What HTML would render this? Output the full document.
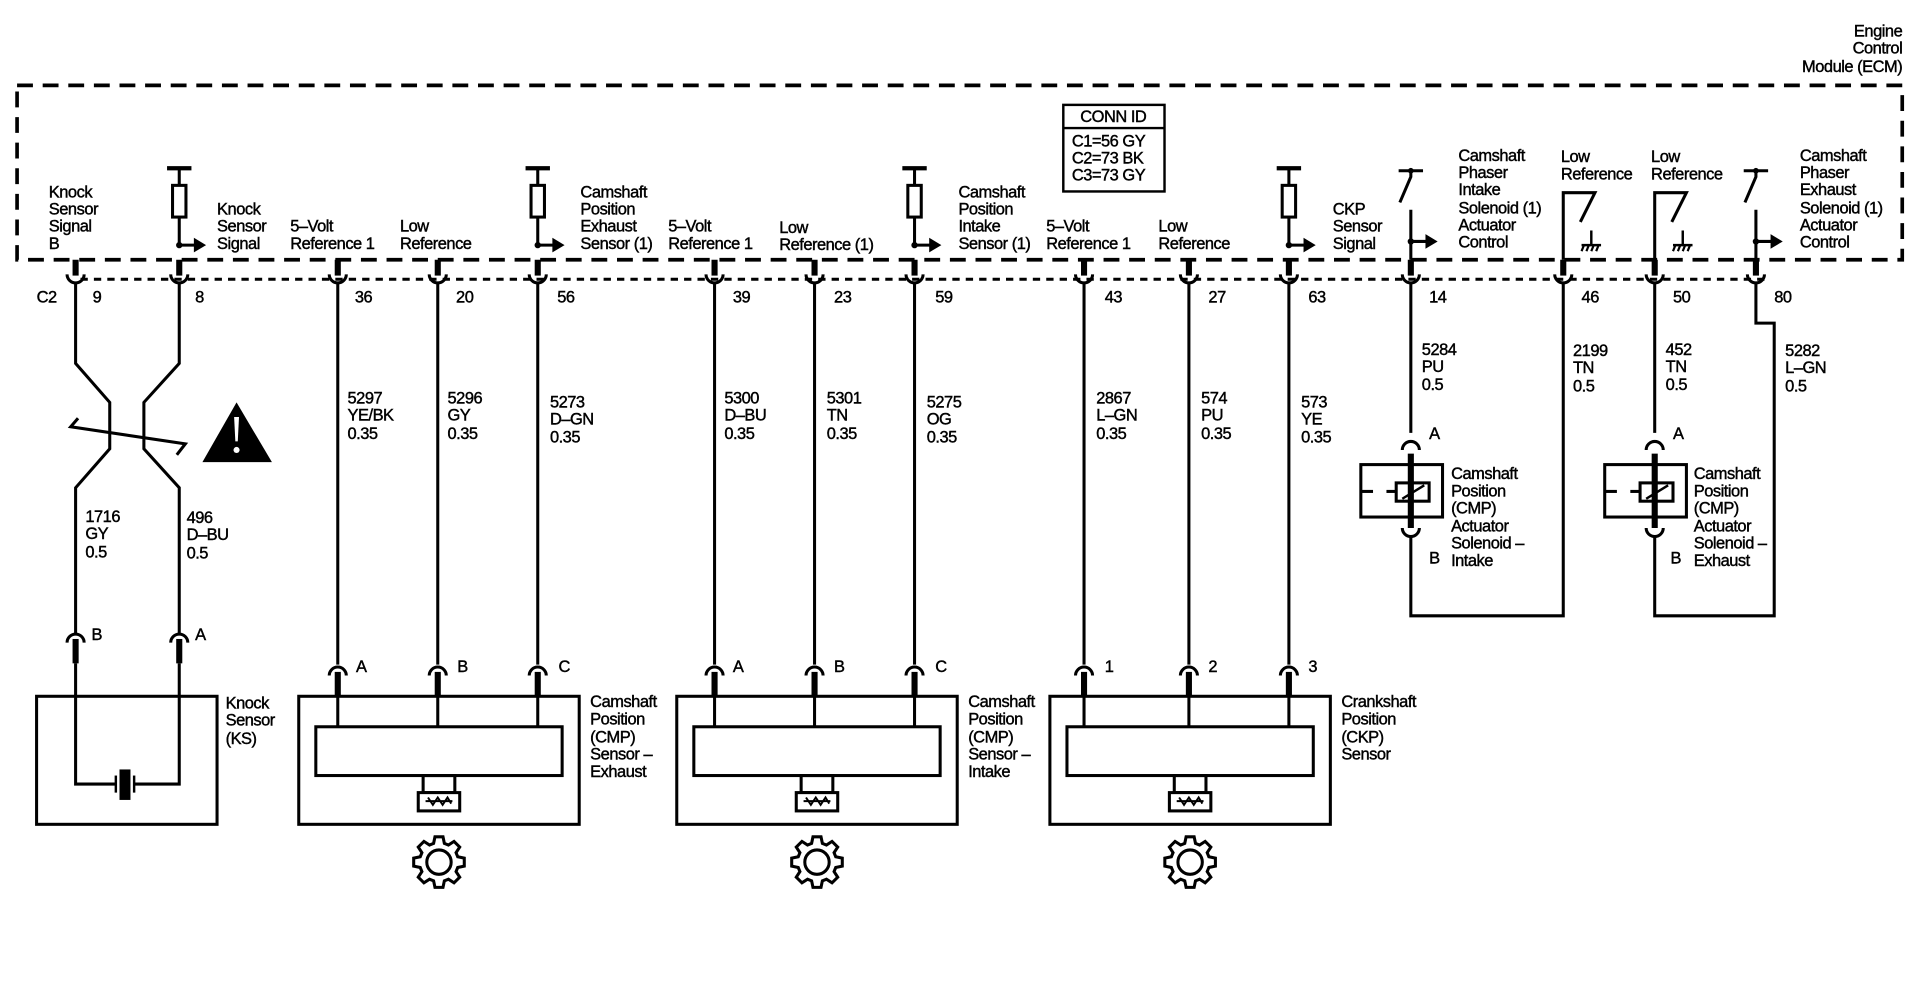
<!DOCTYPE html>
<html><head><meta charset="utf-8"><style>
html,body{margin:0;padding:0;background:#fff;}
svg{display:block;}
text{font-family:"Liberation Sans",Arial,sans-serif;font-size:13.5px;fill:#000;stroke:#000;stroke-width:0.35px;letter-spacing:-0.4px;}
</style></head><body>
<svg width="1912" height="992" viewBox="0 0 1568 813.5" xmlns="http://www.w3.org/2000/svg">
<defs>
<polygon id="gear" fill="#fff" stroke="#000" stroke-width="2.5" points="15.38,-4.41 20.74,-3.29 20.74,3.29 15.38,4.41 14,7.76 16.99,12.34 12.34,16.99 7.76,14 4.41,15.38 3.29,20.74 -3.29,20.74 -4.41,15.38 -7.76,14 -12.34,16.99 -16.99,12.34 -14,7.76 -15.38,4.41 -20.74,3.29 -20.74,-3.29 -15.38,-4.41 -14,-7.76 -16.99,-12.34 -12.34,-16.99 -7.76,-14 -4.41,-15.38 -3.29,-20.74 3.29,-20.74 4.41,-15.38 7.76,-14 12.34,-16.99 16.99,-12.34 14,-7.76"/>
<g id="res"><line x1="-10" y1="0" x2="10" y2="0" stroke="#000" stroke-width="3.5"/><line x1="0" y1="0" x2="0" y2="62" stroke="#000" stroke-width="2.5"/><rect x="-5.5" y="14" width="11" height="26" fill="#fff" stroke="#000" stroke-width="2.5"/><circle cx="0" cy="63" r="2.6"/><line x1="0" y1="63" x2="14" y2="63" stroke="#000" stroke-width="2.5"/><polygon points="12,57 22,63 12,69"/></g>
<g id="sw"><line x1="-10" y1="0" x2="10" y2="0" stroke="#000" stroke-width="2.5"/><circle cx="0" cy="0" r="2.3"/><polyline points="0,0 0,5 -9,26" fill="none" stroke="#000" stroke-width="2.5"/><line x1="0" y1="32" x2="0" y2="73" stroke="#000" stroke-width="2.5"/><circle cx="0" cy="58" r="2.6"/><line x1="0" y1="58" x2="14" y2="58" stroke="#000" stroke-width="2.5"/><polygon points="12,52 22,58 12,64"/></g>
<g id="lowref"><polyline points="0,73 0,18 26,18 14,42" fill="none" stroke="#000" stroke-width="2.5"/><line x1="23" y1="49" x2="23" y2="61" stroke="#000" stroke-width="2"/><line x1="15" y1="61" x2="31" y2="61" stroke="#000" stroke-width="2"/><path d="M17,61 l-2,5 M21,61 l-2,5 M25,61 l-2,5 M29,61 l-2,5" stroke="#000" stroke-width="1.8"/></g>
<g id="pinTop"><line x1="0" y1="213" x2="0" y2="226" stroke="#000" stroke-width="5"/><path d="M-7,225 a7,7 0 0 0 14,0" fill="none" stroke="#000" stroke-width="2.5"/></g>
<g id="pinBot"><path d="M-7,7 a7,7 0 0 1 14,0" fill="none" stroke="#000" stroke-width="2.5"/><line x1="0" y1="4" x2="0" y2="24" stroke="#000" stroke-width="5"/></g>
<g id="sensor"><rect x="0" y="0" width="230" height="105" fill="none" stroke="#000" stroke-width="2.5"/><rect x="14" y="25" width="202" height="40" fill="none" stroke="#000" stroke-width="2.5"/><rect x="102" y="65" width="26" height="14" fill="none" stroke="#000" stroke-width="2.5"/><rect x="98" y="79" width="34" height="15" fill="#fff" stroke="#000" stroke-width="2.5"/><path d="M104,86 h22 M106,83 l4,6 l4,-6 l4,6 l4,-6 l3,5" fill="none" stroke="#000" stroke-width="1.6"/><use href="#gear" x="115" y="136"/><circle cx="115" cy="136" r="10" fill="none" stroke="#000" stroke-width="2.5"/></g>
<g id="sol"><rect x="-41" y="0" width="67" height="43" fill="none" stroke="#000" stroke-width="2.5"/><line x1="-41" y1="22" x2="-31" y2="22" stroke="#000" stroke-width="2.5"/><line x1="-20" y1="22" x2="-12" y2="22" stroke="#000" stroke-width="2.5"/><rect x="-12" y="15" width="27" height="15" fill="#fff" stroke="#000" stroke-width="2.5"/><line x1="-7" y1="28" x2="11" y2="17" stroke="#000" stroke-width="2"/><line x1="0" y1="-9" x2="0" y2="52" stroke="#000" stroke-width="5"/><path d="M-7,-12 a7,7 0 0 1 14,0" fill="none" stroke="#000" stroke-width="2.5"/><path d="M-7,52 a7,7 0 0 0 14,0" fill="none" stroke="#000" stroke-width="2.5"/></g>
</defs>

<text x="1560" y="30" text-anchor="end">Engine</text>
<text x="1560" y="44" text-anchor="end">Control</text>
<text x="1560" y="59" text-anchor="end">Module (ECM)</text>

<rect x="14" y="70" width="1546" height="143" fill="none" stroke="#000" stroke-width="3" stroke-dasharray="13,8"/>
<line x1="66" y1="229" x2="1448" y2="229" stroke="#000" stroke-width="2.5" stroke-dasharray="6,5"/>

<rect x="872" y="86" width="83" height="71" fill="#fff" stroke="#000" stroke-width="2"/>
<line x1="872" y1="105" x2="955" y2="105" stroke="#000" stroke-width="2"/>
<text x="913" y="100" text-anchor="middle">CONN ID</text>
<text x="879" y="120">C1=56 GY</text>
<text x="879" y="134">C2=73 BK</text>
<text x="879" y="148">C3=73 GY</text>

<use href="#res" x="147" y="138"/>
<use href="#res" x="441" y="138"/>
<use href="#res" x="750" y="138"/>
<use href="#res" x="1057" y="138"/>
<use href="#sw" x="1157" y="140"/>
<use href="#sw" x="1440" y="140"/>
<use href="#lowref" x="1282" y="140"/>
<use href="#lowref" x="1357" y="140"/>

<g>
<text x="40" y="162">Knock</text><text x="40" y="176">Sensor</text><text x="40" y="190">Signal</text><text x="40" y="204">B</text>
<text x="178" y="176">Knock</text><text x="178" y="190">Sensor</text><text x="178" y="204">Signal</text>
<text x="238" y="190">5–Volt</text><text x="238" y="204">Reference 1</text>
<text x="328" y="190">Low</text><text x="328" y="204">Reference</text>
<text x="476" y="162">Camshaft</text><text x="476" y="176">Position</text><text x="476" y="190">Exhaust</text><text x="476" y="204">Sensor (1)</text>
<text x="548" y="190">5–Volt</text><text x="548" y="204">Reference 1</text>
<text x="639" y="191">Low</text><text x="639" y="205">Reference (1)</text>
<text x="786" y="162">Camshaft</text><text x="786" y="176">Position</text><text x="786" y="190">Intake</text><text x="786" y="204">Sensor (1)</text>
<text x="858" y="190">5–Volt</text><text x="858" y="204">Reference 1</text>
<text x="950" y="190">Low</text><text x="950" y="204">Reference</text>
<text x="1093" y="176">CKP</text><text x="1093" y="190">Sensor</text><text x="1093" y="204">Signal</text>
<text x="1196" y="132">Camshaft</text><text x="1196" y="146">Phaser</text><text x="1196" y="160">Intake</text><text x="1196" y="175">Solenoid (1)</text><text x="1196" y="189">Actuator</text><text x="1196" y="203">Control</text>
<text x="1280" y="133">Low</text><text x="1280" y="147">Reference</text>
<text x="1354" y="133">Low</text><text x="1354" y="147">Reference</text>
<text x="1476" y="132">Camshaft</text><text x="1476" y="146">Phaser</text><text x="1476" y="160">Exhaust</text><text x="1476" y="175">Solenoid (1)</text><text x="1476" y="189">Actuator</text><text x="1476" y="203">Control</text>
</g>

<use href="#pinTop" x="62"/><use href="#pinTop" x="147"/><use href="#pinTop" x="277"/><use href="#pinTop" x="359"/><use href="#pinTop" x="441"/>
<use href="#pinTop" x="586"/><use href="#pinTop" x="668"/><use href="#pinTop" x="750"/>
<use href="#pinTop" x="889"/><use href="#pinTop" x="975"/><use href="#pinTop" x="1057"/>
<use href="#pinTop" x="1157"/><use href="#pinTop" x="1282"/><use href="#pinTop" x="1357"/><use href="#pinTop" x="1440"/>

<text x="30" y="248">C2</text>
<text x="76" y="248">9</text><text x="160" y="248">8</text><text x="291" y="248">36</text><text x="374" y="248">20</text><text x="457" y="248">56</text>
<text x="601" y="248">39</text><text x="684" y="248">23</text><text x="767" y="248">59</text>
<text x="906" y="248">43</text><text x="991" y="248">27</text><text x="1073" y="248">63</text>
<text x="1172" y="248">14</text><text x="1297" y="248">46</text><text x="1372" y="248">50</text><text x="1455" y="248">80</text>

<g fill="none" stroke="#000" stroke-width="2.5">
<polyline points="62,232 62,298 90,330 90,368 62,400 62,520"/>
<polyline points="147,232 147,298 118,330 118,368 147,400 147,520"/>
<polyline points="64,343 58,350 152,364 145,373"/>
<line x1="277" y1="232" x2="277" y2="545"/><line x1="359" y1="232" x2="359" y2="545"/><line x1="441" y1="232" x2="441" y2="545"/>
<line x1="586" y1="232" x2="586" y2="545"/><line x1="668" y1="232" x2="668" y2="545"/><line x1="750" y1="232" x2="750" y2="545"/>
<line x1="889" y1="232" x2="889" y2="545"/><line x1="975" y1="232" x2="975" y2="545"/><line x1="1057" y1="232" x2="1057" y2="545"/>
<polyline points="1157,232 1157,355"/>
<polyline points="1157,440 1157,505 1282,505 1282,232"/>
<polyline points="1357,232 1357,355"/>
<polyline points="1357,440 1357,505 1455,505 1455,265 1440,265 1440,232"/>
</g>
<polygon points="194,330 166,379 223,379"/>
<path d="M192,342 l4,0 l-1,20 l-2,0 z" fill="#fff"/><circle cx="194" cy="369" r="2.5" fill="#fff"/>

<g>
<text x="70" y="428">1716</text><text x="70" y="442">GY</text><text x="70" y="457">0.5</text>
<text x="153" y="429">496</text><text x="153" y="443">D–BU</text><text x="153" y="458">0.5</text>
<text x="285" y="331">5297</text><text x="285" y="345">YE/BK</text><text x="285" y="360">0.35</text>
<text x="367" y="331">5296</text><text x="367" y="345">GY</text><text x="367" y="360">0.35</text>
<text x="451" y="334">5273</text><text x="451" y="348">D–GN</text><text x="451" y="363">0.35</text>
<text x="594" y="331">5300</text><text x="594" y="345">D–BU</text><text x="594" y="360">0.35</text>
<text x="678" y="331">5301</text><text x="678" y="345">TN</text><text x="678" y="360">0.35</text>
<text x="760" y="334">5275</text><text x="760" y="348">OG</text><text x="760" y="363">0.35</text>
<text x="899" y="331">2867</text><text x="899" y="345">L–GN</text><text x="899" y="360">0.35</text>
<text x="985" y="331">574</text><text x="985" y="345">PU</text><text x="985" y="360">0.35</text>
<text x="1067" y="334">573</text><text x="1067" y="348">YE</text><text x="1067" y="363">0.35</text>
<text x="1166" y="291">5284</text><text x="1166" y="305">PU</text><text x="1166" y="320">0.5</text>
<text x="1290" y="292">2199</text><text x="1290" y="306">TN</text><text x="1290" y="321">0.5</text>
<text x="1366" y="291">452</text><text x="1366" y="305">TN</text><text x="1366" y="320">0.5</text>
<text x="1464" y="292">5282</text><text x="1464" y="306">L–GN</text><text x="1464" y="321">0.5</text>
</g>

<use href="#pinBot" x="62" y="520"/><use href="#pinBot" x="147" y="520"/>
<text x="75" y="525">B</text><text x="160" y="525">A</text>
<rect x="30" y="571" width="148" height="105" fill="none" stroke="#000" stroke-width="2.5"/>
<polyline points="62,544 62,643 95,643" fill="none" stroke="#000" stroke-width="2.5"/>
<polyline points="147,544 147,643 110,643" fill="none" stroke="#000" stroke-width="2.5"/>
<line x1="95" y1="636" x2="95" y2="650" stroke="#000" stroke-width="2"/>
<line x1="110" y1="636" x2="110" y2="650" stroke="#000" stroke-width="2"/>
<rect x="98" y="631" width="9" height="25"/>
<text x="185" y="581">Knock</text><text x="185" y="595">Sensor</text><text x="185" y="610">(KS)</text>

<use href="#pinBot" x="277" y="547"/><use href="#pinBot" x="359" y="547"/><use href="#pinBot" x="441" y="547"/>
<text x="292" y="551">A</text><text x="375" y="551">B</text><text x="458" y="551">C</text>
<use href="#sensor" x="245" y="571"/>
<g><line x1="277" y1="571" x2="277" y2="596" stroke="#000" stroke-width="2.5"/><line x1="359" y1="571" x2="359" y2="596" stroke="#000" stroke-width="2.5"/><line x1="441" y1="571" x2="441" y2="596" stroke="#000" stroke-width="2.5"/></g>
<text x="484" y="580">Camshaft</text><text x="484" y="594">Position</text><text x="484" y="609">(CMP)</text><text x="484" y="623">Sensor –</text><text x="484" y="637">Exhaust</text>

<use href="#pinBot" x="586" y="547"/><use href="#pinBot" x="668" y="547"/><use href="#pinBot" x="750" y="547"/>
<text x="601" y="551">A</text><text x="684" y="551">B</text><text x="767" y="551">C</text>
<use href="#sensor" x="555" y="571"/>
<g><line x1="586" y1="571" x2="586" y2="596" stroke="#000" stroke-width="2.5"/><line x1="668" y1="571" x2="668" y2="596" stroke="#000" stroke-width="2.5"/><line x1="750" y1="571" x2="750" y2="596" stroke="#000" stroke-width="2.5"/></g>
<text x="794" y="580">Camshaft</text><text x="794" y="594">Position</text><text x="794" y="609">(CMP)</text><text x="794" y="623">Sensor –</text><text x="794" y="637">Intake</text>

<use href="#pinBot" x="889" y="547"/><use href="#pinBot" x="975" y="547"/><use href="#pinBot" x="1057" y="547"/>
<text x="906" y="551">1</text><text x="991" y="551">2</text><text x="1073" y="551">3</text>
<use href="#sensor" x="861" y="571"/>
<g><line x1="889" y1="571" x2="889" y2="596" stroke="#000" stroke-width="2.5"/><line x1="975" y1="571" x2="975" y2="596" stroke="#000" stroke-width="2.5"/><line x1="1057" y1="571" x2="1057" y2="596" stroke="#000" stroke-width="2.5"/></g>
<text x="1100" y="580">Crankshaft</text><text x="1100" y="594">Position</text><text x="1100" y="609">(CKP)</text><text x="1100" y="623">Sensor</text>

<use href="#sol" x="1157" y="381"/>
<text x="1172" y="360">A</text><text x="1172" y="462">B</text>
<text x="1190" y="393">Camshaft</text><text x="1190" y="407">Position</text><text x="1190" y="421">(CMP)</text><text x="1190" y="436">Actuator</text><text x="1190" y="450">Solenoid –</text><text x="1190" y="464">Intake</text>
<use href="#sol" x="1357" y="381"/>
<text x="1372" y="360">A</text><text x="1370" y="462">B</text>
<text x="1389" y="393">Camshaft</text><text x="1389" y="407">Position</text><text x="1389" y="421">(CMP)</text><text x="1389" y="436">Actuator</text><text x="1389" y="450">Solenoid –</text><text x="1389" y="464">Exhaust</text>
</svg>
</body></html>
